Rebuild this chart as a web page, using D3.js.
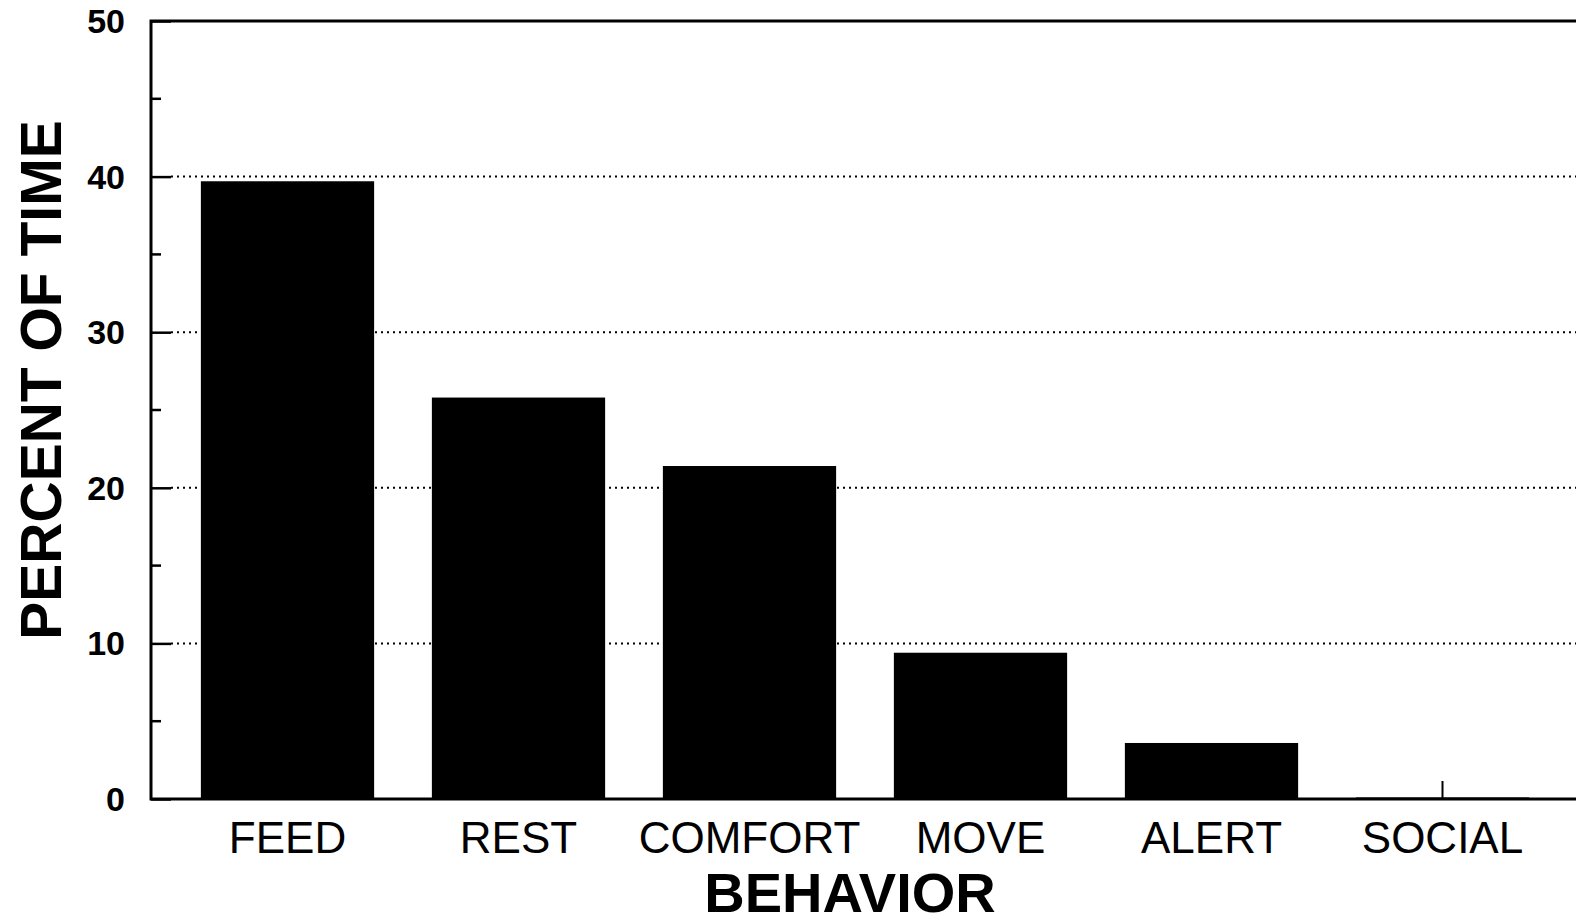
<!DOCTYPE html>
<html>
<head>
<meta charset="utf-8">
<script src="https://cdn.jsdelivr.net/npm/d3@7"></script>
<style>
  html, body { margin: 0; padding: 0; background: #fff; }
  svg { display: block; font-family: "Liberation Sans", Arial, Helvetica, sans-serif; }
</style>
</head>
<body>
<div class="chart"></div>
<script>
// data
var behaviors = ["FEED", "REST", "COMFORT", "MOVE", "ALERT", "SOCIAL"];
var percentTime = [39.7, 25.8, 21.4, 9.4, 3.6, 0.1];
var yTicks = [0, 10, 20, 30, 40, 50];
var yMinorTicks = [5, 15, 25, 35, 45];

var width = 1576, height = 922;
// note: "top" is taken by window.top, so use plot* names
var plotLeft = 151, plotTop = 21, plotBottom = 799;

var svg = d3.select(".chart").append("svg")
  .attr("width", width)
  .attr("height", height);

var y = d3.scaleLinear().domain([0, 50]).range([plotBottom, plotTop]);
var x = d3.scaleBand()
  .domain(behaviors)
  .range([172, 1558])
  .paddingInner(0.25)
  .paddingOuter(0.125);

// dotted grid
svg.append("g").selectAll("line")
  .data(yTicks.filter(function (d) { return d > 0 && d < 50; }))
  .enter().append("line")
  .attr("x1", plotLeft + 20).attr("x2", width)
  .attr("y1", function (d) { return y(d); })
  .attr("y2", function (d) { return y(d); })
  .attr("stroke", "#000")
  .attr("stroke-width", 2)
  .attr("stroke-dasharray", "2,4");

// small ticks on x axis at each category (hidden by bars)
svg.append("g").selectAll("line")
  .data(behaviors)
  .enter().append("line")
  .attr("x1", function (d) { return x(d) + x.bandwidth() / 2; })
  .attr("x2", function (d) { return x(d) + x.bandwidth() / 2; })
  .attr("y1", plotBottom).attr("y2", plotBottom - 18)
  .attr("stroke", "#000").attr("stroke-width", 2);

// bars
svg.append("g").selectAll("rect")
  .data(percentTime)
  .enter().append("rect")
  .attr("x", function (d, i) { return x(behaviors[i]); })
  .attr("width", x.bandwidth())
  .attr("y", function (d) { return y(d); })
  .attr("height", function (d) { return plotBottom - y(d); })
  .attr("fill", "#000");

// y axis with ticks pointing inward
var yAxis = d3.axisRight(y)
  .tickValues(yTicks)
  .tickSize(20)
  .tickFormat("");
var ya = svg.append("g")
  .attr("transform", "translate(" + plotLeft + ",0)")
  .call(yAxis);
ya.select(".domain").remove();
ya.selectAll(".tick line").attr("stroke", "#000").attr("stroke-width", 2.5);

svg.append("g").selectAll("line")
  .data(yMinorTicks)
  .enter().append("line")
  .attr("x1", plotLeft).attr("x2", plotLeft + 10)
  .attr("y1", function (d) { return y(d); })
  .attr("y2", function (d) { return y(d); })
  .attr("stroke", "#000").attr("stroke-width", 2.5);

svg.append("g").selectAll("text")
  .data(yTicks)
  .enter().append("text")
  .attr("x", 125)
  .attr("y", function (d) { return y(d) + 12; })
  .attr("text-anchor", "end")
  .attr("font-size", 34)
  .attr("font-weight", "bold")
  .text(function (d) { return d; });

// frame lines
svg.append("path")
  .attr("d", "M" + width + "," + plotTop + "H" + plotLeft + "V" + plotBottom + "H" + width)
  .attr("fill", "none")
  .attr("stroke", "#000")
  .attr("stroke-width", 3);

// category labels
svg.append("g").selectAll("text")
  .data(behaviors)
  .enter().append("text")
  .attr("x", function (d) { return x(d) + x.bandwidth() / 2; })
  .attr("y", 853)
  .attr("text-anchor", "middle")
  .attr("font-size", 44)
  .text(function (d) { return d; });

// axis titles
svg.append("text")
  .attr("x", 850).attr("y", 912)
  .attr("text-anchor", "middle")
  .attr("font-size", 56)
  .attr("font-weight", "bold")
  .text("BEHAVIOR");

svg.append("text")
  .attr("transform", "translate(61,380) rotate(-90)")
  .attr("text-anchor", "middle")
  .attr("font-size", 57)
  .attr("font-weight", "bold")
  .text("PERCENT OF TIME");
</script>
</body>
</html>
